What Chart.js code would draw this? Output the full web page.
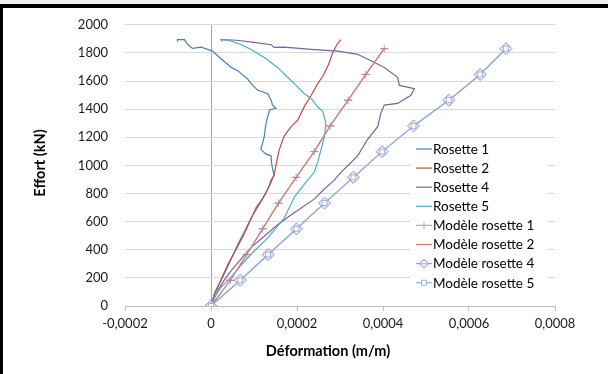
<!DOCTYPE html>
<html>
<head>
<meta charset="utf-8">
<script src="https://cdn.jsdelivr.net/npm/chart.js@4"></script>
<style>
  html, body { margin: 0; padding: 0; background: #fff; }
</style>
</head>
<body>
<canvas id="effortChart" width="608" height="374"></canvas>
<script>
// labels
const seriesLabels = ['Rosette 1', 'Rosette 2', 'Rosette 4', 'Rosette 5',
    'Modèle rosette 1', 'Modèle rosette 2', 'Modèle rosette 4', 'Modèle rosette 5'];
const xTitle = 'Déformation (m/m)';
const yTitle = 'Effort (kN)';

// measured curves (strain m/m, force kN)
const rosette1Strain = [0, 0.000008, 0.00002, 0.000031, 0.000045, 0.000062, 0.000078, 0.000093, 0.000112, 0.000125,
    0.000135, 0.00014, 0.000147, 0.000143, 0.00014, 0.00014, 0.000128, 0.000116, 0.00012, 0.000124,
    0.000128, 0.000136, 0.000151, 0.000143, 0.00014, 0.000132, 0.000109, 0.000097, 0.000085, 0.000062,
    0.000047, 0.000016, 0.000004, -0.000023, -0.000043, -0.000054, -0.000062, -0.000078, -0.000078];
const rosette1Force = [0, 89, 160, 229, 320, 438, 530, 624, 720, 790,
    850, 900, 928, 975, 1040, 1068, 1080, 1114, 1160, 1208,
    1301, 1394, 1406, 1429, 1464, 1510, 1534, 1569, 1615, 1674,
    1697, 1778, 1813, 1841, 1832, 1860, 1895, 1895, 1880];

const rosette2Strain = [0, 0.00001, 0.000025, 0.00004, 0.000058, 0.000075, 0.00009, 0.000105, 0.00012, 0.00013,
    0.00014, 0.000147, 0.000151, 0.000155, 0.000159, 0.00017, 0.000185, 0.000202, 0.000217, 0.000233,
    0.000248, 0.000263, 0.000275, 0.000283, 0.000293, 0.000302];
const rosette2Force = [0, 100, 200, 300, 400, 500, 600, 700, 764, 820,
    881, 940, 998, 1060, 1114, 1208, 1270, 1324, 1418, 1499,
    1580, 1650, 1730, 1802, 1860, 1895];

const rosette4Strain = [0, 0.000016, 0.00003, 0.000047, 0.00007, 0.000093, 0.000125, 0.000155, 0.00018, 0.000209,
    0.00024, 0.000264, 0.000285, 0.000302, 0.000322, 0.000341, 0.000364, 0.000388, 0.000395, 0.000403,
    0.000434, 0.000465, 0.000473, 0.000457, 0.000438, 0.000434, 0.000403, 0.000372, 0.000341, 0.000295,
    0.000233, 0.00017, 0.000147, 0.00014, 0.0001, 0.00006, 0.000027];
const rosette4Force = [0, 112, 180, 252, 335, 415, 500, 578, 635, 695,
    760, 834, 890, 951, 1010, 1068, 1184, 1277, 1371, 1429,
    1441, 1499, 1545, 1557, 1569, 1627, 1697, 1744, 1790, 1813,
    1825, 1841, 1839, 1858, 1875, 1890, 1895];

const rosette5Strain = [0, 0.000008, 0.000025, 0.000047, 0.00007, 0.000093, 0.000132, 0.00015, 0.00017, 0.000195,
    0.000215, 0.00024, 0.000248, 0.000256, 0.000264, 0.000267, 0.00026, 0.000248, 0.000233, 0.000217,
    0.000198, 0.000178, 0.000155, 0.000124, 0.000093, 0.00007, 0.00004, 0.000023, 0.000025];
const rosette5Force = [0, 65, 140, 205, 290, 368, 484, 550, 624, 780,
    858, 951, 1021, 1114, 1208, 1301, 1383, 1417, 1476, 1510,
    1569, 1627, 1697, 1767, 1825, 1860, 1890, 1895, 1880];

// model curves (1 & 2 share values, 4 & 5 share values)
const modelForce = [0, 183, 366, 549, 732, 915, 1098, 1281, 1464, 1647, 1830];
const model12Strain = [0, 0.000045, 0.000083, 0.00012, 0.000157, 0.000198, 0.00024, 0.000277, 0.000319, 0.00036, 0.000403];
const model45Strain = [0, 0.000068, 0.000133, 0.000199, 0.000264, 0.000331, 0.000398, 0.000471, 0.000553, 0.000626, 0.000686];

// axis ranges
const xMin = -0.0002, xMax = 0.0008, xStep = 0.0002;
const yMin = 0, yMax = 2000, yStep = 200;

function pairs(xs, ys) {
    return xs.map((x, i) => ({ x: x, y: ys[i] }));
}

const seriesData = [
    pairs(rosette1Strain, rosette1Force),
    pairs(rosette2Strain, rosette2Force),
    pairs(rosette4Strain, rosette4Force),
    pairs(rosette5Strain, rosette5Force),
    pairs(model12Strain, modelForce),
    pairs(model12Strain, modelForce),
    pairs(model45Strain, modelForce),
    pairs(model45Strain, modelForce)
];
const lineColors = ['#4a7ebb', '#be4b48', '#7d60a0', '#4bacc6', '#95b3d7', '#d97a78', '#a08cc0', '#95b3d7'];
const markerStyles = [false, false, false, false, 'cross', 'line', 'rectRot', 'rect'];
const markerSizes = [0, 0, 0, 0, 4, 4, 6, 3.5];

Chart.defaults.font.family = 'Lato, "Open Sans", sans-serif';
Chart.defaults.font.size = 13;
Chart.defaults.color = '#1a1a1a';

// white page with the dark frame at top and left
const framePlugin = {
    id: 'frame',
    beforeDraw(chart) {
        const c = chart.ctx;
        c.save();
        c.fillStyle = '#fff';
        c.fillRect(0, 0, chart.width, chart.height);
        c.fillStyle = '#f0f0f0';
        c.fillRect(0, 0, chart.width, 4);
        c.fillStyle = '#000';
        c.fillRect(0, 4, chart.width, 4);
        c.fillRect(0, 4, 3, chart.height - 4);
        c.restore();
    }
};

// axis titles, placed like in the excel sheet
const titlePlugin = {
    id: 'axisTitles',
    afterDraw(chart) {
        const c = chart.ctx;
        c.save();
        c.fillStyle = '#000';
        c.font = 'bold 14.5px Lato, sans-serif';
        c.textAlign = 'center';
        c.textBaseline = 'middle';
        c.fillText(xTitle, 328, 351);
        c.translate(40, 163);
        c.rotate(-Math.PI / 2);
        c.fillText(yTitle, 0, 0);
        c.restore();
    }
};

// legend box sitting inside the plot area
const legendPlugin = {
    id: 'boxLegend',
    afterDraw(chart) {
        const c = chart.ctx;
        const left = 410, top = 139, rowH = 19.1;
        c.save();
        c.fillStyle = '#fff';
        c.fillRect(left, top, 138, 153);
        c.font = '13.5px Lato, sans-serif';
        c.textBaseline = 'middle';
        chart.data.datasets.forEach((ds, i) => {
            const y = top + 10 + i * rowH;
            c.strokeStyle = ds.borderColor;
            c.lineWidth = 1.2;
            c.beginPath();
            c.moveTo(left + 6, y);
            c.lineTo(left + 22, y);
            c.stroke();
            if (ds.pointStyle) {
                c.fillStyle = ds.backgroundColor;
                c.strokeStyle = ds.pointBorderColor;
                c.lineWidth = 1;
                Chart.helpers.drawPoint(c, {
                    pointStyle: ds.pointStyle,
                    radius: Math.min(ds.pointRadius, 4.5),
                    borderWidth: 1,
                    rotation: 0
                }, left + 14, y);
            }
            c.fillStyle = '#000';
            c.fillText(ds.label, left + 23, y + 0.5);
        });
        c.restore();
    }
};

const datasets = seriesLabels.map((label, i) => ({
    label: label,
    data: seriesData[i],
    borderColor: lineColors[i],
    backgroundColor: i === 6 ? 'rgba(220,230,242,0.6)' : '#fff',
    borderWidth: 1.2,
    pointStyle: markerStyles[i],
    pointRadius: markerSizes[i],
    pointBorderColor: lineColors[i],
    pointBorderWidth: 1,
    tension: 0,
    order: seriesLabels.length - i
}));

const ctx = document.getElementById('effortChart').getContext('2d');
const effortChart = new Chart(ctx, {
    type: 'scatter',
    data: { datasets: datasets },
    options: {
        responsive: false,
        animation: false,
        devicePixelRatio: 1,
        showLine: true,
        layout: { padding: { left: 0, right: 53, top: 20, bottom: 0 } },
        plugins: {
            legend: { display: false },
            tooltip: { enabled: false }
        },
        scales: {
            x: {
                type: 'linear',
                min: xMin,
                max: xMax,
                afterFit: s => { s.height = 68; },
                ticks: {
                    stepSize: xStep,
                    padding: 5,
                    callback: v => String(Number(v.toFixed(4))).replace('.', ',')
                },
                grid: {
                    color: c => (c.tick && Math.abs(c.tick.value) < 1e-9) ? '#a6a6a6' : 'rgba(0,0,0,0)',
                    tickColor: '#bfbfbf',
                    tickLength: 5
                },
                border: { color: '#bfbfbf' }
            },
            y: {
                min: yMin,
                max: yMax,
                afterFit: s => { s.width = 125; },
                ticks: { stepSize: yStep, padding: 17, callback: v => String(v) },
                grid: { color: '#d9d9d9', drawTicks: false },
                border: { display: false }
            }
        }
    },
    plugins: [framePlugin, titlePlugin, legendPlugin]
});
</script>
</body>
</html>
